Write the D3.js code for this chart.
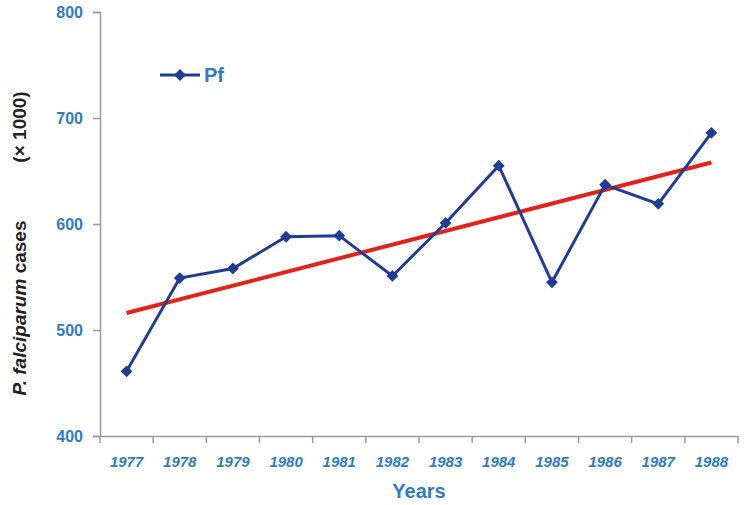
<!DOCTYPE html>
<html><head><meta charset="utf-8">
<script src="https://cdn.jsdelivr.net/npm/d3@7"></script>
<style>body{margin:0;background:#fff}</style>
</head><body><svg id="c"></svg>
<script>
const YEARS = ["1977","1978","1979","1980","1981","1982","1983","1984","1985","1986","1987","1988"];
const PF = [461, 549, 558, 588, 589, 551, 601, 655, 545, 637, 619, 686];
const TREND = [516, 658];
const Y_TICKS = [400, 500, 600, 700, 800];

const W = 744, H = 505;
const m = { top: 12, right: 6, bottom: 69, left: 100 };
const iw = W - m.left - m.right, ih = H - m.top - m.bottom;
const blue = "#2e7bc4", navy = "#1f3d94", red = "#e2231a", axisC = "#9a9a9a";

const svg = d3.select("#c").attr("width", W).attr("height", H);
const g = svg.append("g").attr("transform", `translate(${m.left},${m.top})`);

const x = d3.scaleBand().domain(YEARS).range([0, iw]);
const y = d3.scaleLinear().domain([400, 800]).range([ih, 0]);

// Axes
g.append("g").attr("transform", `translate(0,${ih})`)
  .call(d3.axisBottom(x).tickSize(0).tickPadding(20))
  .call(a => a.select(".domain").attr("stroke", axisC).attr("stroke-width", 1.5))
  .call(a => a.selectAll(".tick text").attr("fill", blue)
    .style("font", "italic bold 15px 'Liberation Sans', Arial"));
g.selectAll(".xtick").data(d3.range(YEARS.length + 1)).join("line")
  .attr("x1", i => i * x.step()).attr("x2", i => i * x.step())
  .attr("y1", ih).attr("y2", ih + 7).attr("stroke", axisC).attr("stroke-width", 1.5);

g.append("g")
  .call(d3.axisLeft(y).tickValues(Y_TICKS).tickSize(7).tickPadding(10))
  .call(a => a.select(".domain").attr("stroke", axisC).attr("stroke-width", 1.5))
  .call(a => a.selectAll(".tick line").attr("stroke", axisC).attr("stroke-width", 1.5))
  .call(a => a.selectAll(".tick text").attr("fill", blue)
    .style("font", "bold 16px 'Liberation Sans', Arial"));

// Axis titles
g.append("text").attr("x", iw / 2).attr("y", ih + 62).attr("text-anchor", "middle")
  .attr("fill", blue).style("font", "bold 20px 'Liberation Sans', Arial").text("Years");

const yl = g.append("text").attr("transform", "rotate(-90)")
  .attr("x", -296).attr("y", -74).attr("text-anchor", "middle")
  .style("font", "bold 19px 'Liberation Sans', Arial").attr("fill", "#222");
yl.append("tspan").style("font-style", "italic").text("P. falciparum");
yl.append("tspan").text(" cases");
g.append("text").attr("transform", "rotate(-90)")
  .attr("x", -115).attr("y", -74).attr("text-anchor", "middle")
  .style("font", "bold 19px 'Liberation Sans', Arial").attr("fill", "#222").text("(× 1000)");

// Trend line
const cx = d => x(d) + x.bandwidth() / 2;
g.append("line")
  .attr("x1", cx(YEARS[0])).attr("y1", y(TREND[0]))
  .attr("x2", cx(YEARS[YEARS.length - 1])).attr("y2", y(TREND[1]))
  .attr("stroke", red).attr("stroke-width", 4);

// Series
const data = YEARS.map((yr, i) => ({ yr, v: PF[i] }));
g.append("path").datum(data)
  .attr("d", d3.line().x(d => cx(d.yr)).y(d => y(d.v)))
  .attr("fill", "none").attr("stroke", navy).attr("stroke-width", 3);
const diamond = d3.symbol().type(d3.symbolSquare).size(70);
g.selectAll(".pt").data(data).join("path")
  .attr("transform", d => `translate(${cx(d.yr)},${y(d.v)}) rotate(45)`)
  .attr("d", diamond).attr("fill", navy);

// Legend
g.append("line").attr("x1", 60).attr("x2", 100).attr("y1", 63).attr("y2", 63)
  .attr("stroke", navy).attr("stroke-width", 3);
g.append("path").attr("transform", "translate(80,63) rotate(45)").attr("d", diamond).attr("fill", navy);
g.append("text").attr("x", 104).attr("y", 70).attr("fill", blue)
  .style("font", "bold 20px 'Liberation Sans', Arial").text("Pf");
</script></body></html>
